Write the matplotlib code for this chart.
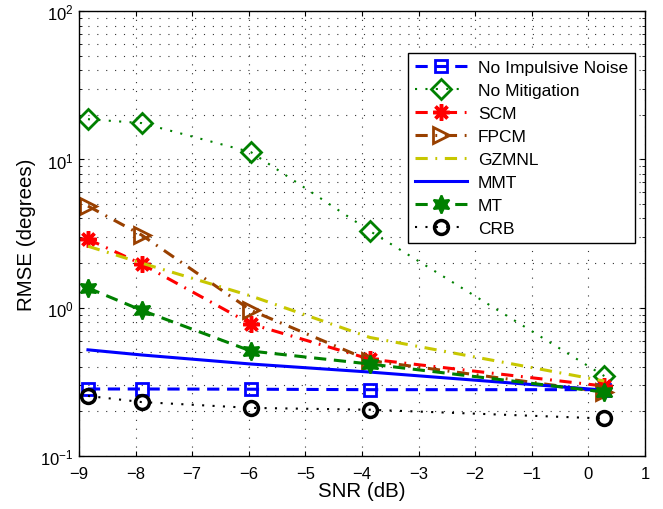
import matplotlib
matplotlib.use("Agg")
import matplotlib.pyplot as plt
import numpy as np

plt.rcParams['font.family'] = ['Liberation Sans', 'DejaVu Sans']
plt.rcParams['mathtext.fontset'] = 'custom'
plt.rcParams['mathtext.rm'] = 'Liberation Sans'

snr = [-8.84, -7.89, -5.96, -3.86, 0.28]

no_impulsive = [0.283, 0.283, 0.282, 0.280, 0.280]
no_mitigation = [18.7, 17.6, 11.2, 3.29, 0.346]
scm = [2.9, 1.97, 0.776, 0.45, 0.296]
fpcm = [4.85, 3.09, 0.96, 0.44, 0.27]
gzmnl = [2.6, 2.0, 1.2, 0.63, 0.32]
mmt = [0.52, 0.48, 0.417, 0.368, 0.278]
mt = [1.36, 0.96, 0.51, 0.417, 0.27]
crb = [0.254, 0.231, 0.211, 0.205, 0.179]

brown = (0.6, 0.25, 0.0)
yellow = (0.78, 0.78, 0.0)
green = (0.0, 0.5, 0.0)

dash = (4, 2.5)
dashdot = (4, 2.5, 0.6, 2.5)

fig = plt.figure(figsize=(6.63, 5.10), dpi=100)
ax = fig.add_axes([0.119, 0.104, 0.854, 0.872])

ax.semilogy(snr, no_impulsive, color='blue', lw=2.2, dashes=dash, marker='s', ms=9,
            mfc='none', mew=2, label='No Impulsive Noise')
ax.semilogy(snr, no_mitigation, color=green, lw=1.5, dashes=(1, 4), marker='D', ms=10,
            mfc='none', mew=2, label='No Mitigation')
ax.semilogy(snr, scm, color='red', lw=2.2, dashes=dashdot, marker=(8, 2, 0), ms=12,
            mew=2.5, label='SCM')
ax.semilogy(snr, fpcm, color=brown, lw=2.2, dashes=dashdot, marker='>', ms=11,
            mfc='none', mew=2, label='FPCM')
ax.semilogy(snr, gzmnl, color=yellow, lw=2.2, dashes=dashdot, label='GZMNL')
ax.semilogy(snr, mmt, '-', color='blue', lw=2.2, label='MMT')
ax.semilogy(snr, mt, color=green, lw=2.2, dashes=dash, marker=(6, 1, 0), ms=13,
            mew=1.5, label='MT')
ax.semilogy(snr, crb, color='black', lw=1.5, dashes=(1, 4), marker='o', ms=10,
            mfc='none', mew=2.5, label='CRB')

ax.set_xlim(-9, 1)
ax.set_ylim(0.1, 100)
ax.set_xticks(np.arange(-9, 2, 1))
ax.grid(True, which='major', ls=(0, (1, 7)), color='0.2', lw=0.8)
ax.grid(True, which='minor', axis='y', ls=(0, (1, 7)), color='0.2', lw=0.8)
ax.tick_params(which='both', direction='in', top=True, right=True, labelsize=12)
ax.tick_params(axis='x', pad=7)
ax.tick_params(axis='y', pad=4)
for s in ax.spines.values():
    s.set_linewidth(1.0)

ax.set_xlabel('SNR (dB)', fontsize=14.8, labelpad=0)
ax.set_ylabel('RMSE (degrees)', fontsize=14.8, labelpad=3)

leg = ax.legend(loc='upper right', bbox_to_anchor=(0.982, 0.906), fontsize=12.5,
                fancybox=False, edgecolor='black', framealpha=1,
                handlelength=3.0, borderaxespad=0, labelspacing=0.45,
                borderpad=0.4, handletextpad=0.6)
leg.get_frame().set_linewidth(1.0)

fig.savefig('out.png', dpi=100)
